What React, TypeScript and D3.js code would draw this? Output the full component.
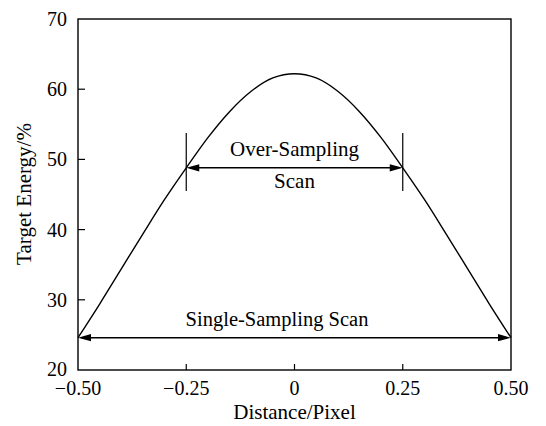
import React from 'react';
import * as d3 from 'd3';

const W = 546;
const H = 426;
const M = { left: 78, right: 35, top: 19, bottom: 56 };

// curve
const distance = [-0.5, -0.45, -0.4, -0.35, -0.3, -0.25, -0.2, -0.15, -0.1, -0.05, 0, 0.05, 0.1, 0.15, 0.2, 0.25, 0.3, 0.35, 0.4, 0.45, 0.5];
const energy = [24.6, 29.4, 34.4, 39.4, 44.3, 48.8, 53.1, 56.8, 59.7, 61.6, 62.2, 61.6, 59.7, 56.8, 53.1, 48.8, 44.3, 39.4, 34.4, 29.4, 24.6];

const xTicks = [-0.5, -0.25, 0, 0.25, 0.5];
const xTickLabels = ['\u22120.50', '\u22120.25', '0', '0.25', '0.50'];
const yTicks = [20, 30, 40, 50, 60, 70];

const overSampling = [-0.25, 0.25];
const singleSampling = [-0.5, 0.5];

const FONT = '"Liberation Serif", "Times New Roman", serif';

const Arrow = ({ x1, x2, y }: { x1: number; x2: number; y: number }) => {
  const L = 13;
  const hw = 3.6;
  return (
    <g>
      <line x1={x1 + 4} x2={x2 - 4} y1={y} y2={y} stroke="#000" strokeWidth={1.4} />
      <path d={`M${x1},${y}L${x1 + L},${y - hw}L${x1 + L},${y + hw}Z`} fill="#000" />
      <path d={`M${x2},${y}L${x2 - L},${y - hw}L${x2 - L},${y + hw}Z`} fill="#000" />
    </g>
  );
};

export default function App() {
  const x = d3.scaleLinear().domain([-0.5, 0.5]).range([M.left, W - M.right]);
  const y = d3.scaleLinear().domain([20, 70]).range([H - M.bottom, M.top]);

  const pts = distance.map((d, i) => [d, energy[i]] as [number, number]);
  const line = d3.line<[number, number]>()
    .x(d => x(d[0]))
    .y(d => y(d[1]))
    .curve(d3.curveMonotoneX);

  const ovY = y(energy[5]);
  const sgY = y(energy[0]);

  return (
    <svg width={W} height={H} style={{ position: 'absolute', left: 0, top: 0, background: '#fff' }} fontFamily={FONT}>
      <rect x={M.left} y={M.top} width={W - M.left - M.right} height={H - M.top - M.bottom} fill="none" stroke="#000" strokeWidth={1.4} />

      {yTicks.map(t => (
        <g key={t}>
          {t > 20 && t < 70 && <line x1={M.left} x2={M.left + 7} y1={y(t)} y2={y(t)} stroke="#000" strokeWidth={1.2} />}
          <text x={67} y={y(t) - (t === 20 ? 1 : 0)} dy="0.35em" textAnchor="end" fontSize={20}>{t}</text>
        </g>
      ))}
      {xTicks.map((t, i) => (
        <g key={t}>
          {i > 0 && i < xTicks.length - 1 && <line x1={x(t)} x2={x(t)} y1={y(20)} y2={y(20) - 6} stroke="#000" strokeWidth={1.2} />}
          <text x={x(t)} y={395} textAnchor="middle" fontSize={20}>{xTickLabels[i]}</text>
        </g>
      ))}

      <path d={line(pts) || ''} fill="none" stroke="#000" strokeWidth={1.4} />

      {overSampling.map(d => (
        <line key={d} x1={x(d)} x2={x(d)} y1={133} y2={191} stroke="#000" strokeWidth={1.2} />
      ))}
      <Arrow x1={x(overSampling[0])} x2={x(overSampling[1])} y={ovY} />
      <text x={x(0)} y={155.5} textAnchor="middle" fontSize={21}>Over-Sampling</text>
      <text x={x(0)} y={188} textAnchor="middle" fontSize={21}>Scan</text>

      <Arrow x1={x(singleSampling[0])} x2={x(singleSampling[1])} y={sgY} />
      <text x={277} y={326} textAnchor="middle" fontSize={20.5}>Single-Sampling Scan</text>

      <text x={x(0)} y={419} textAnchor="middle" fontSize={21}>Distance/Pixel</text>
      <text transform={`translate(31, 194)rotate(-90)`} textAnchor="middle" fontSize={21}>Target Energy/%</text>
    </svg>
  );
}
